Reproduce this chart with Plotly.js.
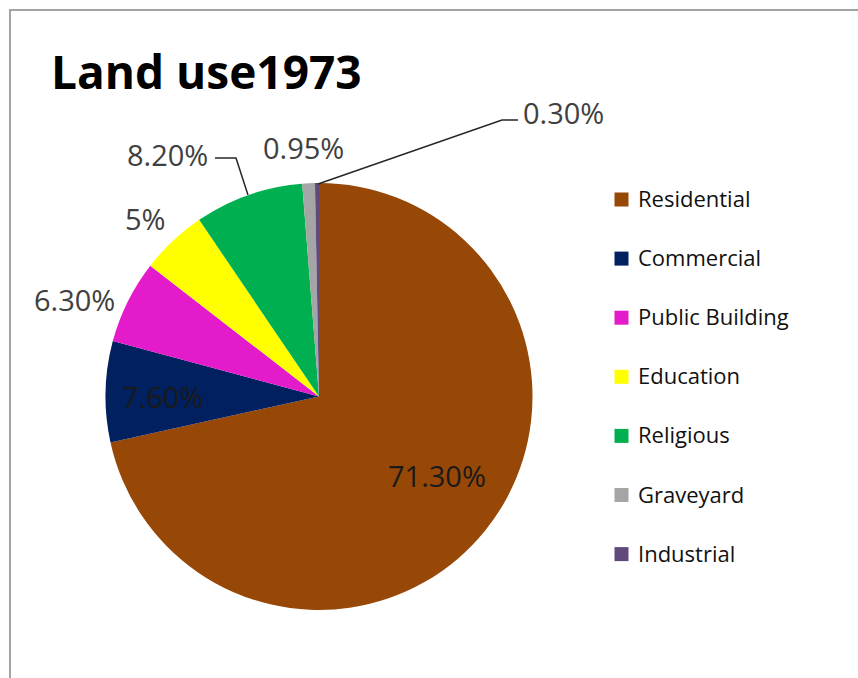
<!DOCTYPE html>
<html>
<head>
<meta charset="utf-8">
<script src="https://cdn.plot.ly/plotly-3.0.1.min.js"></script>
<style>
  html, body { margin:0; padding:0; background:#fff; }
  #wrap { position:relative; width:858px; height:678px; overflow:hidden; }
  #chart { width:858px; height:678px; }
  #frame { position:absolute; left:9px; top:9px; width:1000px; height:1000px;
           border-left:2px solid #a3a3a3; border-top:2px solid #a3a3a3; pointer-events:none; }
</style>
</head>
<body>
<div id="wrap"><div id="chart"></div><div id="frame"></div></div>
<script>
// ---- data ----
const categories = ["Residential", "Commercial", "Public Building", "Education", "Religious", "Graveyard", "Industrial"];
const shares = [71.3, 7.6, 6.3, 5, 8.2, 0.95, 0.3];
const shareLabels = ["71.30%", "7.60%", "6.30%", "5%", "8.20%", "0.95%", "0.30%"];
const colors = ["#974706", "#002060", "#E31BCB", "#FFFF00", "#00B050", "#A5A5A5", "#604A7B"];
const chartTitle = "Land use1973";

// ---- layout helpers (pixel -> paper) ----
const W = 858, H = 678;
const px = x => x / W;
const py = y => 1 - y / H;

// label placement (pixel centres of the data labels)
const labelPos = [[437, 475], [162, 396], [74, 299], [145, 218], [167, 154], [303, 148], [563, 112]];

const annotations = [];
shareLabels.forEach((t, i) => {
  annotations.push({
    xref: "paper", yref: "paper", x: px(labelPos[i][0]), y: py(labelPos[i][1]),
    text: t, showarrow: false, xanchor: "center", yanchor: "middle",
    font: { family: "Open Sans, sans-serif", size: 29, color: i < 2 ? "#1a1a1a" : "#404040" }
  });
});

// legend built next to the pie
const shapes = [];
const legX = 621.5, legY0 = 199.5, legStep = 59.1, sw = 14;
categories.forEach((c, i) => {
  const cy = legY0 + i * legStep;
  shapes.push({
    type: "rect", xref: "paper", yref: "paper",
    x0: px(legX - sw / 2), x1: px(legX + sw / 2), y0: py(cy + sw / 2), y1: py(cy - sw / 2),
    fillcolor: colors[i], line: { width: 0 }
  });
  annotations.push({
    xref: "paper", yref: "paper", x: px(636), y: py(cy - 1.5),
    text: c, showarrow: false, xanchor: "left", yanchor: "middle",
    font: { family: "Open Sans, sans-serif", size: 22, color: "#111111" }
  });
});

// leader lines
const leader = pts => "M " + pts.map(p => px(p[0]) + "," + py(p[1])).join(" L ");
shapes.push({ type: "path", xref: "paper", yref: "paper", path: leader([[318, 184], [502, 120], [518, 120]]), line: { color: "#262626", width: 1.5 } });
shapes.push({ type: "path", xref: "paper", yref: "paper", path: leader([[248, 195], [236, 158], [215, 158]]), line: { color: "#262626", width: 1.5 } });

// title
annotations.push({
  xref: "paper", yref: "paper", x: px(49), y: py(71), text: "<b>" + chartTitle + "</b>",
  showarrow: false, xanchor: "left", yanchor: "middle",
  font: { family: "Open Sans, sans-serif", size: 46, color: "#000" }
});

const trace = {
  type: "pie",
  labels: categories,
  values: shares,
  sort: false,
  direction: "clockwise",
  rotation: 0,
  marker: { colors: colors, line: { color: "#ffffff", width: 0 } },
  textinfo: "none",
  hoverinfo: "label+percent",
  showlegend: false,
  domain: { x: [px(319 - 213.5), px(319 + 213.5)], y: [py(610), py(183)] }
};

const layout = {
  width: W, height: H,
  margin: { l: 0, r: 0, t: 0, b: 0 },
  paper_bgcolor: "#ffffff",
  showlegend: false,
  annotations: annotations,
  shapes: shapes
};

Plotly.newPlot("chart", [trace], layout, { displayModeBar: false, staticPlot: true });
</script>
</body>
</html>
